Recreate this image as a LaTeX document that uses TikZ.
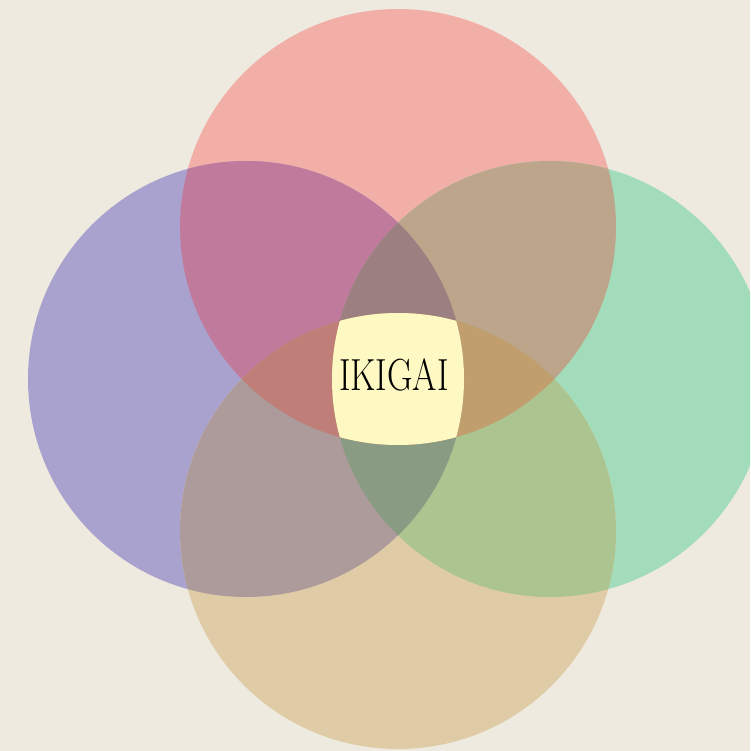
\documentclass[tikz,border=0pt]{standalone}
\usepackage{fontspec}
\definecolor{bgc}{HTML}{EEEADF}
\definecolor{cTop}{HTML}{F1AFA8}
\definecolor{cLeft}{HTML}{AAA2CE}
\definecolor{cRight}{HTML}{A3DCBA}
\definecolor{cBot}{HTML}{DFCCA6}
\definecolor{cTL}{HTML}{C07B9C}
\definecolor{cTR}{HTML}{BCA58B}
\definecolor{cLB}{HTML}{AD9A9B}
\definecolor{cRB}{HTML}{ACC48F}
\definecolor{cTB}{HTML}{C08F74}
\definecolor{cLR}{HTML}{948E83}
\definecolor{cTLR}{HTML}{9C8081}
\definecolor{cBLR}{HTML}{8A9B84}
\definecolor{cTBL}{HTML}{BF7F78}
\definecolor{cTBR}{HTML}{C19E6E}
\definecolor{cAll}{HTML}{FEF8C3}
\begin{document}
\begin{tikzpicture}[x=1pt,y=-1pt]
\def\R{218}
\coordinate (T) at (398,227);
\coordinate (L) at (246,379);
\coordinate (Rt) at (550,379);
\coordinate (B) at (398,531);
\useasboundingbox (0,0) rectangle (750,751);
\clip (0,0) rectangle (750,751);
\fill[bgc] (0,0) rectangle (750,751);
% singles
\fill[cTop] (T) circle (\R);
\fill[cLeft] (L) circle (\R);
\fill[cRight] (Rt) circle (\R);
\fill[cBot] (B) circle (\R);
% pairs
\begin{scope}\clip (T) circle (\R); \fill[cTL] (L) circle (\R); \fill[cTR] (Rt) circle (\R); \fill[cTB] (B) circle (\R);\end{scope}
\begin{scope}\clip (B) circle (\R); \fill[cLB] (L) circle (\R); \fill[cRB] (Rt) circle (\R);\end{scope}
\begin{scope}\clip (L) circle (\R); \fill[cLR] (Rt) circle (\R);\end{scope}
% triples
\begin{scope}\clip (L) circle (\R); \clip (Rt) circle (\R); \fill[cTLR] (T) circle (\R); \fill[cBLR] (B) circle (\R);\end{scope}
\begin{scope}\clip (T) circle (\R); \clip (B) circle (\R); \fill[cTBL] (L) circle (\R); \fill[cTBR] (Rt) circle (\R);\end{scope}
% all four
\begin{scope}\clip (T) circle (\R); \clip (B) circle (\R); \clip (L) circle (\R); \fill[cAll] (Rt) circle (\R);\end{scope}
\node[inner sep=0pt, xscale=0.78, text=black, font=\fontsize{45}{45}\selectfont] (title) at (394,375) {IKIGAI};
\end{tikzpicture}
\end{document}
